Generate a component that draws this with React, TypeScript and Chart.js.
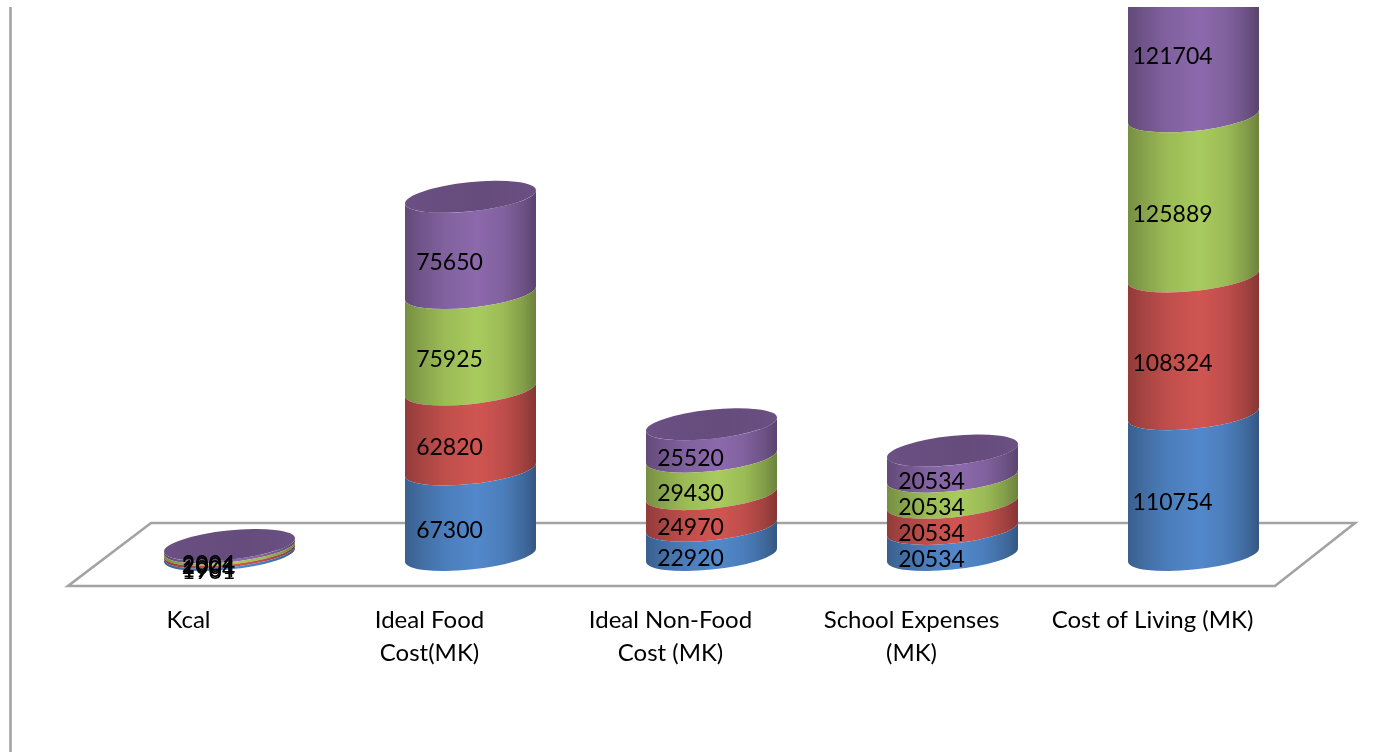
import React, { useEffect, useRef } from "react";
import { Chart, BarController, BarElement, CategoryScale, LinearScale } from "chart.js";

const categories: (string | string[])[] = [
  "Kcal",
  ["Ideal Food", "Cost(MK)"],
  ["Ideal Non-Food", "Cost (MK)"],
  ["School Expenses", "(MK)"],
  "Cost of Living (MK)",
];
const series1 = [1961, 67300, 22920, 20534, 110754];
const series2 = [1904, 62820, 24970, 20534, 108324];
const series3 = [2001, 75925, 29430, 20534, 125889];
const series4 = [2004, 75650, 25520, 20534, 121704];
const seriesNames = ["Series 1", "Series 2", "Series 3", "Series 4"];
const seriesColors = ["#5288CB", "#D05552", "#A8CB5E", "#8C69AC"];
const axisMax = 431000;

const FONT = "Lato, Carlito, sans-serif";
const LINE = "#a3a3a3";
const THETA = (-6 * Math.PI) / 180;
const TOP_COLOR = seriesColors[seriesColors.length - 1];

function shade(hex: string, f: number) {
  const n = parseInt(hex.slice(1), 16);
  const c = [(n >> 16) & 255, (n >> 8) & 255, n & 255].map((v) => Math.round(v * f));
  return `rgb(${c[0]},${c[1]},${c[2]})`;
}

class CylinderElement extends BarElement {
  static id = "cylinder";
  draw(ctx: CanvasRenderingContext2D) {
    const { x, y, base, width } = (this as any).getProps(["x", "y", "base", "width"], true);
    const color: string = (this as any).options.backgroundColor;
    const a = (width / 2) * 1.005;
    const b = width * 0.111;
    const t0 = Math.atan2(-b * Math.sin(THETA), a * Math.cos(THETA));
    const left = x - width / 2;
    const right = x + width / 2;

    const body = ctx.createLinearGradient(left, 0, right, 0);
    [
      [0, 0.7],
      [0.12, 0.8],
      [0.3, 0.92],
      [0.55, 1],
      [0.75, 0.92],
      [0.9, 0.78],
      [1, 0.64],
    ].forEach(([p, f]) => body.addColorStop(p, shade(color, f)));

    // Chart.js paints datasets last-to-first, so each segment's upper edge is
    // the front arc of the ellipse and only the topmost one carries a lid.
    ctx.save();
    ctx.beginPath();
    ctx.ellipse(x, base, a, b, THETA, t0, t0 + Math.PI, false);
    ctx.ellipse(x, y, a, b, THETA, t0 + Math.PI, t0, true);
    ctx.closePath();
    ctx.fillStyle = body;
    ctx.fill();

    if (color === TOP_COLOR) {
      const lid = ctx.createLinearGradient(left, 0, right, 0);
      lid.addColorStop(0, shade(color, 0.76));
      lid.addColorStop(0.6, shade(color, 0.72));
      lid.addColorStop(1, shade(color, 0.76));
      ctx.beginPath();
      ctx.ellipse(x, y, a, b, THETA, 0, 2 * Math.PI);
      ctx.fillStyle = lid;
      ctx.fill();
    }
    ctx.restore();
  }
}

class CylinderController extends BarController {
  static id = "cylinder";
  static defaults = { dataElementType: "cylinder" };
}

Chart.register(BarController, BarElement, CylinderElement, CylinderController, CategoryScale, LinearScale);

const framePlugin = {
  id: "frame",
  beforeDatasetsDraw(chart: any) {
    const { ctx, chartArea: ca } = chart;
    ctx.save();
    ctx.strokeStyle = LINE;
    ctx.lineWidth = 2.6;
    ctx.lineJoin = "miter";
    ctx.beginPath();
    ctx.moveTo(ca.left + 42, ca.bottom - 32);
    ctx.lineTo(ca.right + 41, ca.bottom - 32);
    ctx.lineTo(ca.right - 39, ca.bottom + 31);
    ctx.lineTo(ca.left - 41, ca.bottom + 31);
    ctx.closePath();
    ctx.stroke();
    ctx.beginPath();
    ctx.moveTo(ca.left - 98.5, ca.top);
    ctx.lineTo(ca.left - 98.5, chart.height);
    ctx.stroke();
    ctx.restore();
  },
};

const labelPlugin = {
  id: "segmentLabels",
  afterDatasetsDraw(chart: any) {
    const { ctx } = chart;
    ctx.save();
    ctx.font = `23px ${FONT}`;
    ctx.fillStyle = "#000";
    ctx.textAlign = "center";
    ctx.textBaseline = "middle";
    chart.data.datasets.forEach((ds: any, i: number) => {
      chart.getDatasetMeta(i).data.forEach((el: any, j: number) => {
        const { x, y, base, width } = el.getProps(["x", "y", "base", "width"], true);
        ctx.fillText(String(ds.data[j]), x - width * 0.16, (y + base) / 2 + 18);
      });
    });
    ctx.restore();
  },
};

export default function App() {
  const ref = useRef<HTMLCanvasElement>(null);
  useEffect(() => {
    const chart = new Chart(ref.current as HTMLCanvasElement, {
      type: "cylinder" as any,
      data: {
        labels: categories as any,
        datasets: [series1, series2, series3, series4].map((data, i) => ({
          label: seriesNames[i],
          data,
          backgroundColor: seriesColors[i],
          clip: { left: 100, right: 100, top: 0, bottom: 60 } as any,
        })),
      },
      options: {
        animation: false,
        responsive: false,
        devicePixelRatio: 1,
        events: [],
        categoryPercentage: 1,
        barPercentage: 0.5436,
        layout: { padding: { left: 109, right: 82, top: 7, bottom: 0 } },
        plugins: { legend: { display: false }, tooltip: { enabled: false } },
        scales: {
          x: {
            stacked: true,
            border: { display: false },
            grid: { display: false, drawTicks: false },
            afterFit: (s: any) => {
              s.height = 197;
            },
            ticks: {
              autoSkip: false,
              maxRotation: 0,
              labelOffset: -41,
              padding: 49,
              color: "#000",
              font: { family: FONT, size: 24, lineHeight: 33 / 24 },
            },
          },
          y: { stacked: true, display: false, min: 0, max: axisMax },
        },
      } as any,
      plugins: [framePlugin, labelPlugin],
    });
    return () => chart.destroy();
  }, []);
  return (
    <div style={{ position: "fixed", left: 0, top: 0, width: 1396, height: 752, background: "#fff" }}>
      <canvas ref={ref} width={1396} height={752} style={{ display: "block" }} />
    </div>
  );
}
